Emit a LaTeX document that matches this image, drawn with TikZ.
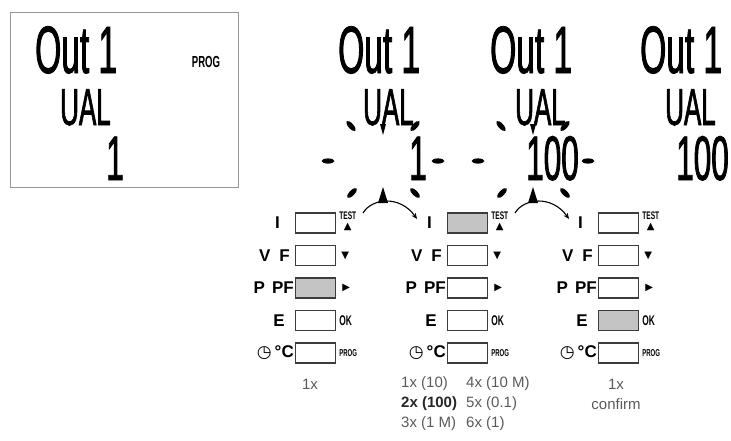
\documentclass[tikz,border=0pt]{standalone}
\usepackage{fontspec}
\setmainfont{Liberation Sans}
\newfontfamily\symfont{DejaVu Sans}
\newfontfamily\lcdfont{Liberation Sans}[FakeStretch=0.5,FakeBold=1.2]
\newfontfamily\narrowfont{Liberation Sans}[FakeStretch=0.6]
\usetikzlibrary{arrows.meta,positioning}
\definecolor{frame}{RGB}{150,150,150}
\definecolor{keygray}{RGB}{196,196,196}
\definecolor{keyline}{RGB}{60,60,60}
\definecolor{txtgray}{RGB}{90,90,90}
% segment-like display text: squeezed sans
\newcommand{\lcd}[2]{{\lcdfont\fontsize{#1}{#1}\selectfont #2}}
\newcommand{\tinylab}[2]{{\narrowfont\fontsize{#1}{#1}\selectfont\bfseries #2}}

\begin{document}
\begin{tikzpicture}[x=1pt,y=-1pt,
    lcd/.style={inner sep=0pt},
    key/.style={draw=keyline,line width=1.2pt,minimum width=40pt,minimum height=20pt,inner sep=0pt},
    keyon/.style={key,fill=keygray},
    keylab/.style={font=\fontsize{17}{17}\selectfont\bfseries,anchor=east,inner sep=0pt},
    arrowsym/.style={inner sep=0pt,font=\symfont\fontsize{10}{10}\selectfont},
    count/.style={font=\fontsize{15}{15}\selectfont,text=txtgray,inner sep=0pt},
    turn/.style={line width=1.1pt,-{Stealth[length=6pt,width=5pt]}}]
  \useasboundingbox (0,0) rectangle (731,440);

  % first display in its frame
  \draw[frame,line width=1pt] (10,12) rectangle (238,187);
  \node[lcd] (prog) at (206,62) {\tinylab{16}{PROG}};

  % the four displays
  \foreach \X/\val/\n in {35/1/a,338/1/b,490/100/c,640/100/d} {
    \node[lcd,anchor=base west] (out\n) at (\X,73) {\lcd{67}{Out 1}};
    \node[lcd,anchor=base west] (ual\n) at (\X+25,125) {\lcd{52}{UAL}};
    \node[lcd,anchor=base east] (val\n) at (\X+89,180) {\lcd{63}{\val}};
  }

  % blinking marks around the edited value
  \foreach \cx in {383,533} {
    \foreach \dx/\dy/\a in {-55/0/0,55/0/0,-32/-35/132,32/-35/48,-31/32/46,32/32/135}
      \fill[shift={(\cx+\dx,161+\dy)},rotate=\a] (0,0) ellipse (6.5 and 2.6);
    \fill (\cx-3,124) -- (\cx+3,124) -- (\cx,135) -- cycle;
    \fill (\cx,187) -- (\cx+5,203) -- (\cx-5,203) -- cycle;
  }

  % key panels
  \foreach \bx/\on/\n in {295/3/p,447/1/q,598/4/r} {
    \foreach \r/\yy/\lab/\gap in {1/223/I/15,2/255.5/V\hspace{9pt}F/5,3/288/P\hspace{7pt}PF/1,
        4/320.5/E/10,5/353/{{\symfont\bfseries ◷}\hspace{3pt}°C}/1} {
      \ifnum\r=\on\def\kst{keyon}\else\def\kst{key}\fi
      \node[\kst,anchor=west] (k\n\r) at (\bx,\yy) {};
      \node[keylab,left=\gap pt of k\n\r] (l\n\r) {\lab};
    }
    \node[lcd,anchor=north west] (test\n) at ([xshift=3pt,yshift=1pt]k\n1.north east) {\tinylab{11}{TEST}};
    \node[arrowsym,below=3pt of test\n] (up\n) {▲};
    \node[arrowsym,right=5pt of k\n2] (dn\n) {▼};
    \node[arrowsym,right=6pt of k\n3] (rt\n) {▶};
    \node[lcd,right=3pt of k\n4] (ok\n) {\tinylab{14}{OK}};
    \node[lcd,right=3pt of k\n5] (pg\n) {\tinylab{10}{PROG}};
  }

  % turning arrows between the steps
  \coordinate (s1) at (363,213);
  \coordinate (e1) at (417,219);
  \coordinate (s2) at (515,213);
  \coordinate (e2) at (569,219);
  \draw[turn] (s1) .. controls (372,198) and (400,195) .. (e1);
  \draw[turn] (s2) .. controls (524,198) and (552,195) .. (e2);

  % key presses
  \node[count] (c1) at (310,384) {1x};
  \node[count,anchor=west] (c21) at (401,384) {1x (10)};
  \node[count,anchor=west,text=black!85] (c22) at (401,404) {\bfseries 2x (100)};
  \node[count,anchor=west] (c23) at (401,424) {3x (1 M)};
  \node[count,anchor=west] (c24) at (466,384) {4x (10 M)};
  \node[count,anchor=west] (c25) at (466,404) {5x (0.1)};
  \node[count,anchor=west] (c26) at (466,424) {6x (1)};
  \node[count] (c31) at (616,384) {1x};
  \node[count] (c32) at (616,404) {confirm};
\end{tikzpicture}
\end{document}
